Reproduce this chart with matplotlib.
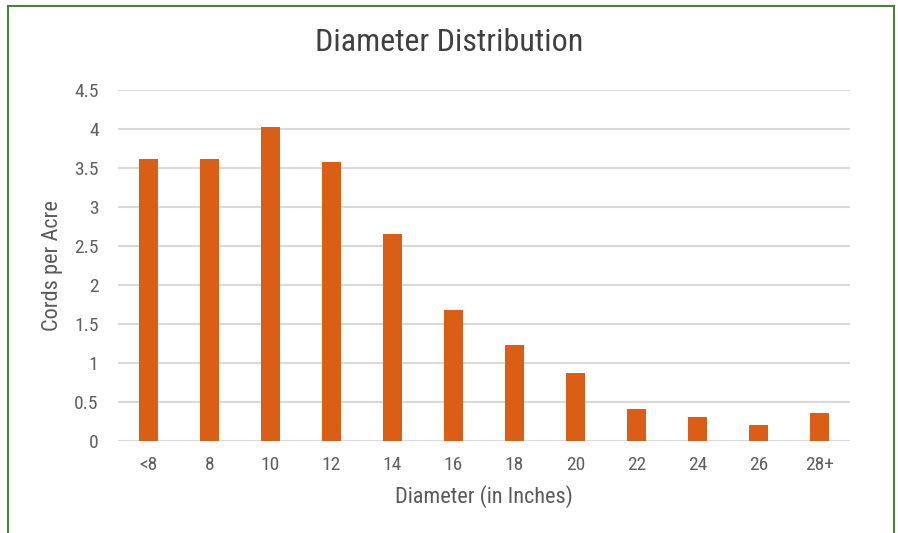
import matplotlib.pyplot as plt
from matplotlib.lines import Line2D
from matplotlib import font_manager

categories = ['<8', '8', '10', '12', '14', '16', '18', '20', '22', '24', '26', '28+']
cords = [3.61, 3.61, 4.03, 3.58, 2.66, 1.68, 1.23, 0.87, 0.41, 0.31, 0.20, 0.36]
yticks = [0, 0.5, 1, 1.5, 2, 2.5, 3, 3.5, 4, 4.5]
ytick_labels = ['0', '0.5', '1', '1.5', '2', '2.5', '3', '3.5', '4', '4.5']

names = {f.name for f in font_manager.fontManager.ttflist}
fams = [n for n in ['Roboto Condensed', 'Liberation Sans Narrow', 'DejaVu Sans Condensed'] if n in names]
plt.rcParams['font.family'] = fams + ['DejaVu Sans']
plt.rcParams['font.stretch'] = 'condensed'

fig = plt.figure(figsize=(8.98, 5.33), dpi=100)
ax = fig.add_axes([0.1314, 0.1726, 0.815, 0.6585])

ax.bar(range(len(categories)), cords, width=0.31, color='#DA5E15', zorder=3)
ax.set_xlim(-0.5, len(categories) - 0.5)
ax.set_ylim(0, 4.5)
ax.set_xticks(range(len(categories)))
ax.set_xticklabels(categories)
ax.set_yticks(yticks)
ax.set_yticklabels(ytick_labels)
ax.grid(axis='y', color='#D9D9D9', linewidth=1.5, zorder=0)
ax.tick_params(length=0, labelsize=14, colors='#5F5F5F', pad=11)
ax.tick_params(axis='y', pad=14)
for s in ax.spines.values():
    s.set_visible(False)

ax.set_xlabel('Diameter (in Inches)', fontsize=16, color='#595959', labelpad=8)
ax.set_ylabel('Cords per Acre', fontsize=16, color='#595959', labelpad=8)
fig.text(0.5, 0.92, 'Diameter Distribution', ha='center', va='center',
         fontsize=23, color='#404040')

# green frame (bottom edge cut off in the original)
g = '#4F7F3A'
fig.add_artist(Line2D([0.009, 0.009], [0, 0.989], color=g, lw=1.5))
fig.add_artist(Line2D([0.009, 0.995], [0.989, 0.989], color=g, lw=1.5))
fig.add_artist(Line2D([0.995, 0.995], [0, 0.989], color=g, lw=1.5))

plt.savefig('out.png', dpi=100)
